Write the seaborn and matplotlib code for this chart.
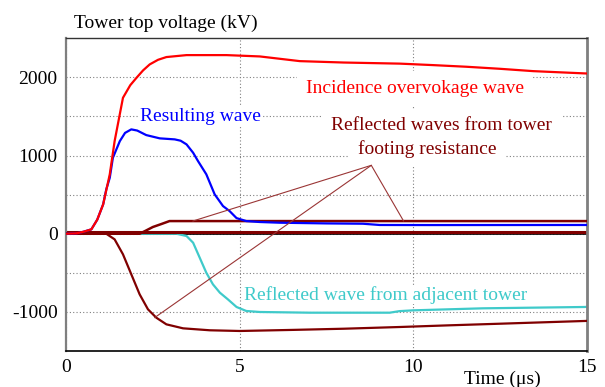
import matplotlib
matplotlib.use("Agg")
import matplotlib.pyplot as plt
import matplotlib.transforms as mtransforms
import seaborn as sns
import numpy as np

# ---- data ----
t_incident = [0, 0.3, 0.5, 0.73, 0.9, 1.07, 1.26, 1.40, 1.64, 1.85, 2.03, 2.22, 2.41, 2.65,
              2.89, 3.47, 4.62, 5.58, 6.73, 8.0, 9.61, 10.57, 11.53, 12.49, 13.45, 14.93, 15]
v_incident = [0, 5, 25, 56, 180, 376, 760, 1185, 1739, 1900, 1995, 2090, 2166, 2225,
              2260, 2285, 2285, 2268, 2208, 2190, 2176, 2157, 2136, 2110, 2080, 2051, 2050]

t_result = [0, 0.3, 0.5, 0.73, 0.9, 1.07, 1.16, 1.26, 1.35, 1.55, 1.70, 1.88, 2.05, 2.31,
            2.70, 3.13, 3.30, 3.47, 3.66, 3.80, 4.04, 4.28, 4.52, 4.71, 4.91, 5.19, 5.58,
            6.15, 7.5, 8.55, 9.03, 10.47, 15]
v_result = [0, 5, 25, 56, 180, 376, 568, 716, 972, 1185, 1290, 1335, 1320, 1262,
            1220, 1207, 1190, 1143, 1036, 930, 760, 504, 354, 290, 200, 162, 150,
            141, 132, 128, 112, 111, 112]

t_refl_pos = [0, 2.12, 2.3, 2.5, 2.75, 2.98, 15]
v_refl_pos = [0, 0, 40, 86, 125, 162, 162]

t_refl_neg = [0, 1.16, 1.40, 1.64, 1.88, 2.12, 2.36, 2.60, 2.89, 3.37, 4.14, 5.0,
              6.54, 8.0, 9.61, 11.0, 12.49, 14.93, 15]
v_refl_neg = [0, 0, -72, -263, -519, -775, -967, -1074, -1159, -1210, -1235, -1244,
              -1230, -1215, -1193, -1172, -1151, -1116, -1115]

t_adjacent = [1.64, 3.18, 3.47, 3.66, 3.85, 4.04, 4.23, 4.43, 4.66, 4.91, 5.19, 5.58,
              7.02, 9.32, 9.6, 9.99, 12.0, 14.93, 15]
v_adjacent = [0, 0, -29, -115, -307, -499, -647, -754, -839, -937, -988, -1001,
              -1010, -1010, -990, -980, -954, -937, -935]

t_zero = [0, 15]
v_zero = [0, 0]

# annotation: apex of the pointer lines and the points they reach
pointer_apex = (8.79, 875)
pointer_targets = [(3.65, 162), (2.55, -1074), (9.72, 162)]

x_ticks = [0, 5, 10, 15]
y_ticks = [-1000, 0, 1000, 2000]
y_minor = [-500, 500, 1500]

RED = "#ff0000"
BLUE = "#0000ff"
MAROON = "#800000"
CYAN = "#3fcaca"
POINTER = "#9a3535"

sns.set_theme(style="white")
plt.rcParams["font.family"] = ["Liberation Serif", "DejaVu Serif"]
plt.rcParams["axes.unicode_minus"] = False

fig = plt.figure(figsize=(6.05, 3.87), dpi=100)
ax = fig.add_axes([66 / 605, 1 - 351 / 387, (587 - 66) / 605, (351 - 38.3) / 387])

ax.set_xlim(0, 15)
ax.set_ylim(-1500, 2500)
ax.set_xticks(x_ticks)
ax.set_yticks(y_ticks)
ax.set_yticks(y_minor, minor=True)
ax.tick_params(axis="both", which="both", length=0, labelsize=14, pad=6, colors="black")
ax.grid(True, which="both", axis="both", color="#808080", linestyle=(0, (1, 2)), linewidth=0.8)
ax.set_axisbelow(True)

for side, col, lw in [("left", "#7f7f7f", 1.6), ("right", "#7f7f7f", 2.0),
                      ("top", "#333333", 1.0), ("bottom", "#000000", 1.2)]:
    ax.spines[side].set_visible(True)
    ax.spines[side].set_color(col)
    ax.spines[side].set_linewidth(lw)

# zero reference: black thin line with maroon band just above
ax.axhline(0, color="black", lw=1.2, zorder=2)
shift = mtransforms.offset_copy(ax.transData, fig=fig, x=0, y=1.3, units="points")
sns.lineplot(x=t_zero, y=v_zero, ax=ax, color=MAROON, lw=2.2, transform=shift, zorder=2.5)

sns.lineplot(x=t_adjacent, y=v_adjacent, ax=ax, color=CYAN, lw=1.6, zorder=2, sort=False)
sns.lineplot(x=t_refl_neg, y=v_refl_neg, ax=ax, color=MAROON, lw=1.6, zorder=4, sort=False)
sns.lineplot(x=t_refl_pos, y=v_refl_pos, ax=ax, color=MAROON, lw=1.8, zorder=4, sort=False)
sns.lineplot(x=t_result, y=v_result, ax=ax, color=BLUE, lw=1.6, zorder=4, sort=False)
sns.lineplot(x=t_incident, y=v_incident, ax=ax, color=RED, lw=1.6, zorder=4, sort=False)

for (tx, vy) in pointer_targets:
    ax.plot([pointer_apex[0], tx], [pointer_apex[1], vy], color=POINTER, lw=0.8, zorder=5)

box = dict(facecolor="white", edgecolor="none", boxstyle="square,pad=0.45")
ax.text(10.04, 1803, "Incidence overvokage wave", color=RED, fontsize=14,
        ha="center", va="baseline", bbox=box, zorder=3)
ax.text(3.86, 1441, "Resulting wave", color=BLUE, fontsize=14,
        ha="center", va="baseline", bbox=dict(facecolor="white", edgecolor="none",
                                               boxstyle="square,pad=0.1"), zorder=3)
ax.text(10.81, 1322, "Reflected waves from tower", color=MAROON, fontsize=14,
        ha="center", va="baseline", bbox=box, zorder=3)
ax.text(10.40, 1015, "footing resistance", color=MAROON, fontsize=14,
        ha="center", va="baseline", bbox=box, zorder=3)
ax.text(9.21, -848, "Reflected wave from adjacent tower", color=CYAN, fontsize=14,
        ha="center", va="baseline", bbox=dict(facecolor="white", edgecolor="none",
                                               boxstyle="square,pad=0.02"), zorder=3)

fig.text(74 / 605, 1 - 27.5 / 387, "Tower top voltage (kV)", fontsize=14,
         ha="left", va="baseline", color="black")
fig.text(502 / 605, 1 - 384 / 387, "Time (\u03bcs)", fontsize=14, ha="center", va="baseline",
         color="black")

ax.set_xlabel("")
ax.set_ylabel("")
fig.savefig("out.png", dpi=100)
